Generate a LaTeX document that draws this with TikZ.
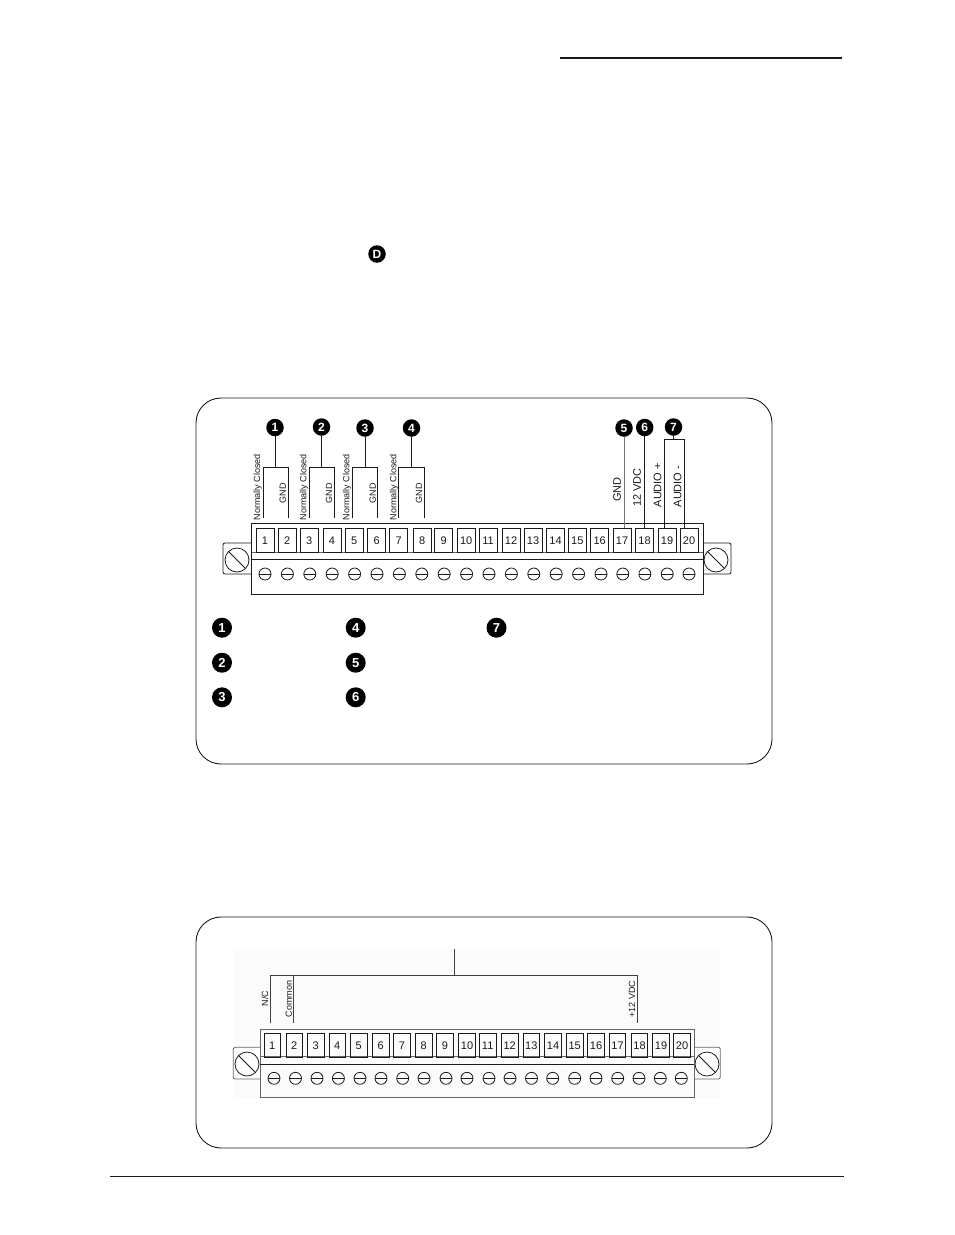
\documentclass[tikz,border=0pt]{standalone}
\usepackage{fontspec}
\setmainfont{Liberation Sans}
\definecolor{ink}{HTML}{1A1A1A}
\definecolor{wash}{HTML}{FBFBFB}
\tikzset{
 panel/.style={draw=ink,line width=0.9pt,rounded corners=25pt},
 wire/.style={draw=ink,line width=0.9pt},
 greywire/.style={draw=black!55,line width=0.9pt},
 part/.style={draw=ink,line width=0.8pt},
 softpart/.style={draw=black!60,line width=0.8pt},
 badge/.style={circle,fill=black,text=white,inner sep=0pt,minimum size=17.5pt,text height=8.5pt,text depth=0pt,font=\fontsize{12}{12}\selectfont\bfseries},
 bigbadge/.style={badge,minimum size=20pt,text height=9pt,font=\fontsize{13}{13}\selectfont\bfseries},
 termbox/.style={draw=ink,line width=0.8pt,minimum height=24pt,inner sep=0pt,text height=8pt,text depth=0pt,text=ink,font=\fontsize{11}{11}\selectfont},
 vsmall/.style={rotate=90,anchor=west,inner sep=0pt,text=ink,font=\fontsize{9}{9}\selectfont},
 vlarge/.style={rotate=90,anchor=west,inner sep=0pt,text=ink,font=\fontsize{11}{11}\selectfont},
}
\begin{document}
\begin{tikzpicture}[x=1pt,y=-1pt]
\useasboundingbox (0,0) rectangle (954,1235);
% page rules
\coordinate (ruleA) at (560,58); \coordinate (ruleB) at (842,58);
\draw[ink,line width=1.5pt] (ruleA) -- (ruleB);
\coordinate (ruleC) at (110,1176); \coordinate (ruleD) at (844,1176);
\draw[ink,line width=0.9pt] (ruleC) -- (ruleD);
\node[badge] (D) at (377,254) {D};
% panels
\draw[panel] (196,398) rectangle (772,764);
\draw[panel] (196,917) rectangle (772,1148);

% ---------- upper terminal ----------
\draw[part,rounded corners=2pt] (251.5,543) -- (223,543) -- (223,574) -- (251.5,574);
\draw[part,rounded corners=2pt] (703,543) -- (731,543) -- (731,574) -- (703,574);
\draw[part] (237,560) circle (12);
\draw[part] (716,560) circle (12);
\draw[part] (228.5,551.5) -- (245.5,568.5);
\draw[part] (707.5,551.5) -- (724.5,568.5);
\draw[part,fill=white] (251.5,523) rectangle (703,594);
\draw[softpart] (251.5,552) -- (703,552);
\draw[part] (251.5,559) -- (703,559);
\foreach \n/\cx in {1/265,2/287.3,3/309.3,4/332,5/354.3,6/376.7,7/398.7,8/422.2,9/443.7,10/466.2,11/488,12/511,13/533,14/555.5,15/577.3,16/599.7,17/622,18/644.5,19/667,20/689}{
  \node[termbox,minimum width=18pt,anchor=north] (t\n) at (\cx,528) {\n};
}
\foreach \cx in {265,287.4,309.8,332.2,354.6,377,399.4,421.8,444.2,466.6,489,511.4,533.8,556.2,578.6,601,622.8,644.9,667.2,689}{
  \draw[part] (\cx,574) circle (6);
  \draw[part] (\cx-6,574) -- (\cx+6,574);
}
% upper callouts
\node[badge] (u1) at (275,427.5) {1};
\node[badge] (u2) at (321.5,427) {2};
\node[badge] (u3) at (365,428) {3};
\node[badge] (u4) at (411.5,428) {4};
\node[badge] (u5) at (624,428) {5};
\node[badge] (u6) at (644.7,427.5) {6};
\node[badge] (u7) at (673.5,427) {7};
\foreach \k/\a/\b in {1/263/288,2/309.5/334.7,3/352/377.3,4/398.7/424.3}{
  \coordinate (bl\k) at (\a,518);
  \coordinate (br\k) at (\b,518);
  \draw[wire] (u\k.south) -- (u\k.south |- 0,467);
  \draw[wire] (bl\k) -- (\a,467) -- (\b,467) -- (br\k);
}
\coordinate (e5) at (624,528);
\coordinate (e6) at (644.7,528);
\draw[greywire] (u5.south) -- (e5);
\draw[wire] (u6.south) -- (e6);
\coordinate (e7a) at (664.3,528);
\coordinate (e7b) at (684,528);
\draw[wire] (u7.south) -- (u7.south |- 0,439.7);
\draw[wire] (e7a) -- (664.3,439.7) -- (684,439.7) -- (e7b);
% upper texts
\foreach \nm/\xx in {nca/257.7,ncb/304,ncc/347,ncd/394}{
  \node[vsmall] (\nm) at (\xx,520.5) {Normally Closed};
}
\foreach \nm/\xx in {ga/282.7,gb/329,gc/372.7,gd/419}{
  \node[vsmall] (\nm) at (\xx,503.5) {GND};
}
\node[vlarge] (gnd5) at (617,502) {GND};
\node[vlarge] (vdc) at (637,507) {12 VDC};
\node[vlarge] (aup) at (657.7,507.5) {AUDIO +};
\node[vlarge] (aum) at (677.7,507.5) {AUDIO -};
% legend
\node[bigbadge] (l1) at (222,627.7) {1};
\node[bigbadge] (l2) at (222,662.7) {2};
\node[bigbadge] (l3) at (222,697.3) {3};
\node[bigbadge] (l4) at (355.7,627.7) {4};
\node[bigbadge] (l5) at (355.7,662.7) {5};
\node[bigbadge] (l6) at (355.7,697.3) {6};
\node[bigbadge] (l7) at (496.5,627.7) {7};

% ---------- lower terminal ----------
\fill[wash] (234,949) rectangle (720,1098);
\draw[softpart,rounded corners=2pt,fill=white] (260.3,1047.3) -- (233.3,1047.3) -- (233.3,1079) -- (260.3,1079);
\draw[softpart,rounded corners=2pt,fill=white] (694.3,1047.3) -- (720.3,1047.3) -- (720.3,1079) -- (694.3,1079);
\draw[part] (247,1064) circle (12);
\draw[part] (707,1064) circle (12);
\draw[part] (238.5,1055.5) -- (255.5,1072.5);
\draw[part] (698.5,1055.5) -- (715.5,1072.5);
\draw[softpart,fill=wash] (260.3,1029) rectangle (694.3,1097.3);
\draw[softpart] (260.3,1056.7) -- (694.3,1056.7);
\draw[part] (260.3,1064.3) -- (694.3,1064.3);
\foreach \n/\cx in {1/272.3,2/294.3,3/315.7,4/337.3,5/358.7,6/380.7,7/402,8/423.7,9/445,10/467,11/487.7,12/509.7,13/531.3,14/553,15/574.7,16/596,17/617.5,18/639.5,19/661,20/682}{
  \node[termbox,minimum width=16.5pt,minimum height=23.4pt,anchor=north] (b\n) at (\cx,1033.3) {\n};
}
\foreach \cx in {274,295.5,317,338.4,360,381,402.7,424,446,467,489,510,531.5,552.7,574.7,596,617.7,639,660.3,681.3}{
  \draw[part] (\cx,1078.3) circle (6);
  \draw[part] (\cx-6,1078.3) -- (\cx+6,1078.3);
}
\coordinate (top) at (454,949);
\coordinate (topj) at (454,975);
\coordinate (eNC) at (270,1022.7);
\coordinate (eCom) at (293.3,1022.7);
\coordinate (eV) at (637.3,1022.7);
\draw[wire,draw=black!75] (top) -- (topj);
\draw[wire,draw=black!75] (eNC) -- (270,975) -- (637.3,975) -- (eV);
\draw[wire,draw=black!75] (eCom) -- (293.3,975);
\node[vsmall] (nc) at (265,1006.5) {N/C};
\node[vsmall] (com) at (288.7,1017.5) {Common};
\node[vsmall] (v12) at (632,1017.5) {+12 VDC};
\end{tikzpicture}
\end{document}
